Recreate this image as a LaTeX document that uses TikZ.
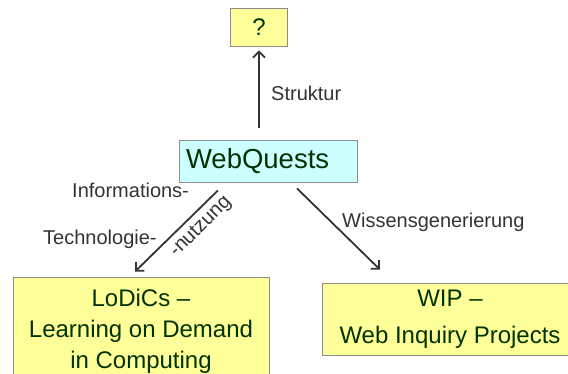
\documentclass[tikz,border=0pt]{standalone}
\usepackage{fontspec}
\setmainfont{Liberation Sans}
\usetikzlibrary{arrows.meta}

\definecolor{boxyellow}{HTML}{FFFF99}
\definecolor{boxcyan}{HTML}{CCFFFF}
\definecolor{boxtext}{HTML}{003300}
\definecolor{linegray}{HTML}{333333}
\definecolor{framegray}{HTML}{8C8C8C}

\tikzset{
	box/.style={draw=framegray, line width=0.8pt, text=boxtext, inner sep=0pt, align=center},
	lbl/.style={text=linegray, font=\fontsize{20}{24}\selectfont, inner sep=0pt, anchor=base west},
	arr/.style={draw=linegray, line width=1.8pt, -{Straight Barb[length=6pt,width=12pt]}}
}

\begin{document}
\begin{tikzpicture}[x=1pt,y=-1pt]
	
	\useasboundingbox (0,0) rectangle (568,374);
	
	% boxes
	\node[box, fill=boxyellow, minimum width=57pt, minimum height=38pt, font=\fontsize{24}{28}\selectfont] (q) at (259,27) {?};
	\node[box, fill=boxcyan, minimum width=178pt, minimum height=42pt, text width=164pt, inner xsep=7pt, align=left, font=\fontsize{27.5}{32}\selectfont] (wq) at (268,161) {WebQuests};
	\node[box, fill=boxyellow, minimum width=256pt, minimum height=108pt, font=\fontsize{24}{31}\selectfont] (lod) at (141,331) {LoDiCs –\\Learning on Demand\\in Computing};
	\node[box, fill=boxyellow, minimum width=256pt, minimum height=72pt, font=\fontsize{24}{37}\selectfont] (wip) at (450,319) {WIP –\\Web Inquiry Projects};
	
	% arrows
	\draw[arr] ([xshift=-9pt,yshift=12pt]wq.north) -- ([yshift=-4pt]q.south);
	\draw[arr] ([xshift=-50pt,yshift=-8pt]wq.south) -- ([xshift=-6pt,yshift=5pt]lod.north);
	\draw[arr] ([xshift=29pt,yshift=-6pt]wq.south) -- ([xshift=-70pt,yshift=13pt]wip.north);
	
	% labels
	\node[lbl] (struktur) at (271,101) {Struktur};
	\node[lbl] (info) at (72,197.5) {Informations-};
	\node[lbl] (techno) at (43,245) {Technologie-};
	\node[lbl, anchor=center, rotate=45] (nutz) at (201,227) {-nutzung};
	\node[lbl] (wissen) at (342,228) {Wissensgenerierung};
	
\end{tikzpicture}
\end{document}
